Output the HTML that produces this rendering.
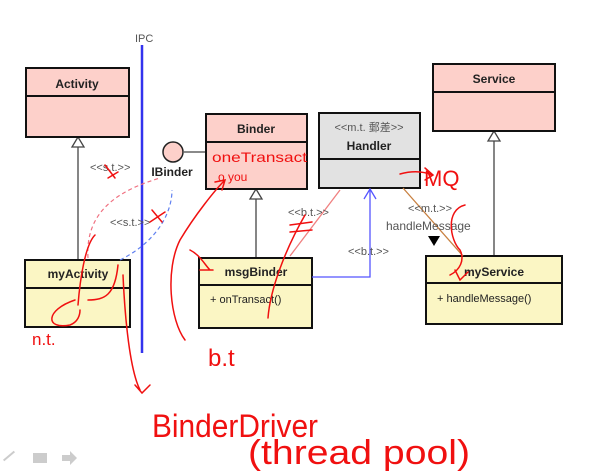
<!DOCTYPE html>
<html><head><meta charset="utf-8"><style>
html,body{margin:0;padding:0;background:#fff;}
svg{display:block}
.b{font-family:"Liberation Sans",sans-serif;font-weight:bold;font-size:12px;fill:#222}
.s{font-family:"Liberation Sans","Noto Sans CJK TC",sans-serif;font-size:11px;fill:#555}
.h{font-family:"Liberation Sans",sans-serif;fill:#f01010}
</style></head><body>
<svg width="615" height="472" viewBox="0 0 615 472" xmlns="http://www.w3.org/2000/svg">
<rect width="615" height="472" fill="#fff"/>
<text x="135" y="42" class="s" style="font-size:11px">IPC</text>
<line x1="142" y1="45" x2="142" y2="353" stroke="#3333ee" stroke-width="2.5"/>
<g stroke="#444" stroke-width="1.3" fill="#fff">
<line x1="78" y1="146" x2="78" y2="260"/>
<polygon points="78,137 72,147 84,147"/>
<line x1="256" y1="198" x2="256" y2="258"/>
<polygon points="256,189 250,199 262,199"/>
<line x1="494" y1="140" x2="494" y2="256"/>
<polygon points="494,131 488,141 500,141"/>
<line x1="184" y1="152" x2="206" y2="152"/>
</g>
<g stroke="#111" stroke-width="2">
<rect x="26" y="68" width="103" height="69" fill="#fdd0ca"/>
<line x1="26" y1="96" x2="129" y2="96"/>
<rect x="206" y="114" width="101" height="75" fill="#fdd0ca"/>
<line x1="206" y1="142" x2="307" y2="142"/>
<rect x="319" y="113" width="101" height="75" fill="#e2e2e2"/>
<line x1="319" y1="159" x2="420" y2="159"/>
<rect x="433" y="64" width="122" height="67" fill="#fdd0ca"/>
<line x1="433" y1="92" x2="555" y2="92"/>
<rect x="25" y="260" width="105" height="67" fill="#fbf6c4"/>
<line x1="25" y1="288" x2="130" y2="288"/>
<rect x="199" y="258" width="113" height="70" fill="#fbf6c4"/>
<line x1="199" y1="285" x2="312" y2="285"/>
<rect x="426" y="256" width="136" height="68" fill="#fbf6c4"/>
<line x1="426" y1="283" x2="562" y2="283"/>
</g>
<circle cx="173" cy="152" r="10" fill="#fdd0ca" stroke="#222" stroke-width="1.5"/>
<text x="77" y="88" class="b" text-anchor="middle">Activity</text>
<text x="256" y="133" class="b" text-anchor="middle">Binder</text>
<text x="369" y="131" class="s" text-anchor="middle">&lt;&lt;m.t. 郵差&gt;&gt;</text>
<text x="369" y="150" class="b" text-anchor="middle">Handler</text>
<text x="494" y="83" class="b" text-anchor="middle">Service</text>
<text x="172" y="176" class="b" text-anchor="middle">IBinder</text>
<text x="78" y="278" class="b" text-anchor="middle">myActivity</text>
<text x="256" y="276" class="b" text-anchor="middle">msgBinder</text>
<text x="494" y="276" class="b" text-anchor="middle">myService</text>
<text x="210" y="303" class="s" style="fill:#222">+ onTransact()</text>
<text x="437" y="302" class="s" style="fill:#222">+ handleMessage()</text>
<polyline points="312,277 370,277 370,189" fill="none" stroke="#5555ff" stroke-width="1.3"/>
<polyline points="364,199 370,189 376,199" fill="none" stroke="#5555ff" stroke-width="1.3"/>
<text x="348" y="255" class="s">&lt;&lt;b.t.&gt;&gt;</text>
<line x1="290" y1="256" x2="340" y2="190" stroke="#f08080" stroke-width="1.3"/>
<text x="288" y="216" class="s">&lt;&lt;b.t.&gt;&gt;</text>
<line x1="403" y1="188" x2="463" y2="256" stroke="#c88040" stroke-width="1.3"/>
<text x="408" y="212" class="s">&lt;&lt;m.t.&gt;&gt;</text>
<text x="386" y="230" class="s" style="font-size:12px">handleMessage</text>
<polygon points="428,236 440,236 434,246" fill="#000"/>
<path d="M88,258 C85,210 120,190 160,178" fill="none" stroke="#f07080" stroke-width="1.2" stroke-dasharray="4,3"/>
<path d="M120,260 C160,240 172,210 172,190" fill="none" stroke="#6080f0" stroke-width="1.2" stroke-dasharray="4,3"/>
<text x="90" y="171" class="s">&lt;&lt;s.t.&gt;&gt;</text>
<text x="110" y="226" class="s">&lt;&lt;s.t.&gt;&gt;</text>
<g fill="none" stroke="#f01010" stroke-width="1.5" stroke-linecap="round">
<path d="M105,165 L115,178 M108,178 L118,172"/>
<path d="M152,210 L162,222 M150,222 L165,212"/>
<path d="M75,300 C45,310 45,330 70,325 C78,322 80,315 80,310"/>
<path d="M78,305 C80,280 85,245 95,235"/>
<path d="M88,300 C105,300 115,295 118,265"/>
<path d="M123,275 C125,320 130,370 140,390 M135,385 L142,393 L150,385"/>
<path d="M185,340 C170,320 165,270 180,240 C195,215 215,190 225,180 M215,182 L225,180 L222,190"/>
<path d="M190,250 C200,255 205,265 210,270 M200,270 L213,270"/>
<path d="M268,318 C270,290 285,250 305,215"/>
<path d="M290,225 L312,222 M290,232 L312,230"/>
<path d="M400,174 C415,170 425,172 432,175 M425,168 L433,175 L425,180"/>
<path d="M465,205 C445,210 450,240 460,250 C465,260 460,270 450,275 M455,270 L460,280 L468,272"/>
</g>
<text x="212" y="162" class="h" style="font-size:14px" textLength="95" lengthAdjust="spacingAndGlyphs">oneTransact</text>
<text x="218" y="181" class="h" style="font-size:12px">o you</text>
<text x="424" y="186" class="h" style="font-size:22px">MQ</text>
<text x="32" y="345" class="h" style="font-size:17px">n.t.</text>
<text x="208" y="366" class="h" style="font-size:24px">b.t</text>
<text x="152" y="437" class="h" style="font-size:32px" textLength="166" lengthAdjust="spacingAndGlyphs">BinderDriver</text>
<text x="248" y="464" class="h" style="font-size:34px" textLength="222" lengthAdjust="spacingAndGlyphs">(thread pool)</text>
<g fill="#ccc"><rect x="2" y="455" width="14" height="2" transform="rotate(-40 9 456)"/><rect x="33" y="453" width="14" height="10"/><polygon points="62,455 70,455 70,451 77,458 70,465 70,461 62,461"/></g>
</svg>
</body></html>
